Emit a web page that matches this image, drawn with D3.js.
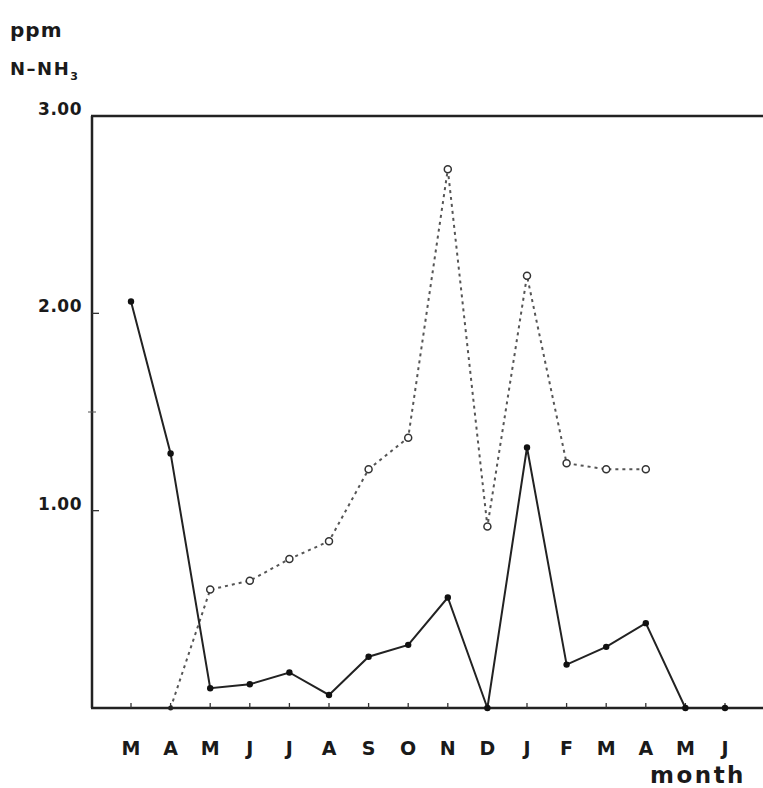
<!DOCTYPE html>
<html>
<head>
<meta charset="utf-8">
<script src="https://cdn.jsdelivr.net/npm/d3@7"></script>
<style>
  html, body { margin: 0; background: #fff; overflow: hidden; }
  svg { display: block; }
  text { font-family: "DejaVu Sans", sans-serif; fill: #1a1a1a; font-weight: bold; }
</style>
</head>
<body>
<div class="chart"></div>
<script>
// Month labels along the x axis (Mar .. Jun of next year)
var months = ["M", "A", "M", "J", "J", "A", "S", "O", "N", "D", "J", "F", "M", "A", "M", "J"];

// Solid line, filled dots
var solidValues = [2.06, 1.29, 0.10, 0.12, 0.18, 0.066, 0.26, 0.32, 0.56, 0.0, 1.32, 0.22, 0.31, 0.43, 0.0, 0.0];

// Dashed line, open circles (null = no value)
var dashedValues = [null, 0.0, 0.60, 0.645, 0.755, 0.845, 1.21, 1.37, 2.73, 0.92, 2.19, 1.24, 1.21, 1.21, null, null];

var yTicks = [1, 2, 3];
var yTickLabels = ["1.00", "2.00", "3.00"];

var width = 763, height = 788;

var svg = d3.select(".chart").append("svg")
  .attr("width", width)
  .attr("height", height);

// Scales
var xScale = d3.scalePoint()
  .domain(d3.range(months.length))
  .range([131, 725]);

var yScale = d3.scaleLinear()
  .domain([0, 3])
  .range([708, 116]);

// Frame: left axis, top border, bottom axis
svg.append("line")
  .attr("x1", 92).attr("x2", 92)
  .attr("y1", yScale(3)).attr("y2", yScale(0))
  .attr("stroke", "#222").attr("stroke-width", 2.5);

svg.append("line")
  .attr("x1", 91).attr("x2", width)
  .attr("y1", yScale(3)).attr("y2", yScale(3))
  .attr("stroke", "#222").attr("stroke-width", 2.5);

svg.append("line")
  .attr("x1", 91).attr("x2", width)
  .attr("y1", yScale(0)).attr("y2", yScale(0))
  .attr("stroke", "#222").attr("stroke-width", 2.5);

// Small month ticks pointing up
svg.selectAll(".xtick")
  .data(months)
  .enter().append("line")
  .attr("class", "xtick")
  .attr("x1", (d, i) => xScale(i)).attr("x2", (d, i) => xScale(i))
  .attr("y1", yScale(0)).attr("y2", yScale(0) - 5)
  .attr("stroke", "#333").attr("stroke-width", 1.3);

// Y ticks pointing inward
svg.selectAll(".ytick")
  .data([1, 2])
  .enter().append("line")
  .attr("class", "ytick")
  .attr("x1", 92).attr("x2", 99)
  .attr("y1", d => yScale(d)).attr("y2", d => yScale(d))
  .attr("stroke", "#333").attr("stroke-width", 1.3);

svg.append("line")
  .attr("x1", 88).attr("x2", 96)
  .attr("y1", yScale(1.5)).attr("y2", yScale(1.5))
  .attr("stroke", "#555").attr("stroke-width", 1);

// Y tick labels
svg.selectAll(".ylabel")
  .data(yTicks)
  .enter().append("text")
  .attr("class", "ylabel")
  .attr("x", 82)
  .attr("y", d => yScale(d) - 1)
  .attr("text-anchor", "end")
  .style("font-size", "17px")
  .style("letter-spacing", "0.5px")
  .text((d, i) => yTickLabels[i]);

// Month labels
svg.selectAll(".xlabel")
  .data(months)
  .enter().append("text")
  .attr("class", "xlabel")
  .attr("x", (d, i) => xScale(i))
  .attr("y", 755)
  .attr("text-anchor", "middle")
  .style("font-size", "19px")
  .text(d => d);

// Axis titles
svg.append("text")
  .attr("x", 10).attr("y", 37)
  .style("font-size", "20px")
  .style("letter-spacing", "1px")
  .text("ppm");

var nh = svg.append("text")
  .attr("x", 10).attr("y", 75)
  .style("font-size", "18px")
  .style("letter-spacing", "1.5px");
nh.append("tspan").text("N\u2013NH");
nh.append("tspan").attr("dy", 5).style("font-size", "11px").text("3");

svg.append("text")
  .attr("x", 746).attr("y", 783)
  .attr("text-anchor", "end")
  .style("font-size", "23px")
  .style("letter-spacing", "2.5px")
  .text("month");

// Dashed series
var dashedLine = d3.line()
  .defined(d => d != null)
  .x((d, i) => xScale(i))
  .y(d => yScale(d));

svg.append("path")
  .datum(dashedValues)
  .attr("fill", "none")
  .attr("stroke", "#555")
  .attr("stroke-width", 2)
  .attr("stroke-dasharray", "3,4")
  .attr("d", dashedLine);

svg.selectAll(".dpt")
  .data(dashedValues.map((v, i) => ({ v: v, i: i })).filter(d => d.v != null && d.v > 0))
  .enter().append("circle")
  .attr("class", "dpt")
  .attr("cx", d => xScale(d.i))
  .attr("cy", d => yScale(d.v))
  .attr("r", 3.5)
  .attr("fill", "#fff")
  .attr("stroke", "#333")
  .attr("stroke-width", 1.5);

// Solid series
var solidLine = d3.line()
  .x((d, i) => xScale(i))
  .y(d => yScale(d));

svg.append("path")
  .datum(solidValues)
  .attr("fill", "none")
  .attr("stroke", "#222")
  .attr("stroke-width", 2)
  .attr("d", solidLine);

svg.selectAll(".spt")
  .data(solidValues)
  .enter().append("circle")
  .attr("class", "spt")
  .attr("cx", (d, i) => xScale(i))
  .attr("cy", d => yScale(d))
  .attr("r", 3.2)
  .attr("fill", "#111");

// small dot where the dashed line starts on the axis
svg.append("circle")
  .attr("cx", xScale(1)).attr("cy", yScale(0))
  .attr("r", 2.5).attr("fill", "#222");
</script>
</body>
</html>
